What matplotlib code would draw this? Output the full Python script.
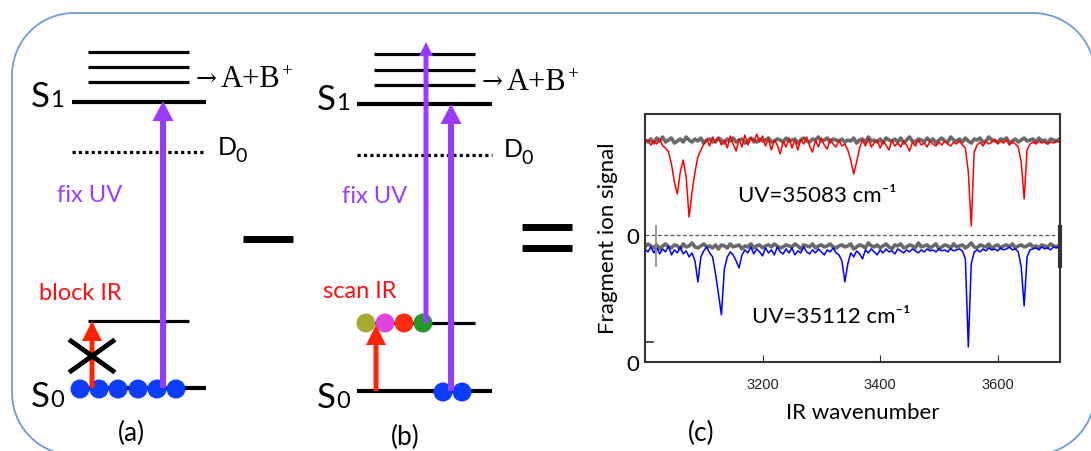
import numpy as np
import matplotlib
matplotlib.use("Agg")
import matplotlib.pyplot as plt
from matplotlib.patches import FancyArrow, Circle, PathPatch
from matplotlib.path import Path

plt.rcParams["font.family"] = ["Lato", "DejaVu Sans"]

W, H = 1091, 452

# spectrum data: wavenumber grid start/step, dips in units of 1/248 of the axis height
wn_start = 3000
red_dip = [0, -2, 3, -1, 2, -3, 4, 6, 10, 22,
           40, 52, 30, 18, 35, 75, 50, 30, 15, 8,
           2, -3, 4, -5, 1, -4, 3, -2, 6, -6,
           2, 9, -3, 5, -7, 3, -4, 1, -8, 0,
           -6, 4, -3, 8, -2, 3, 12, -1, 5, -4,
           6, -2, 8, -3, 2, -5, 4, 10, -2, 5,
           -4, 3, 7, -3, 2, 5, -2, 4, 2, 8,
           18, 32, 20, 6, -2, 4, -3, 5, 1, -2,
           6, -1, 3, 8, -2, 4, 1, 5, -1, 3,
           9, 0, 4, -2, 3, 1, 5, -1, 2, 4,
           0, 3, -1, 2, 4, 0, 2, -1, 3, 6,
           30, 84, 10, 3, 0, 4, -1, 2, 0, -3,
           2, -1, 1, -2, 3, 0, 2, 5, 20, 57,
           8, 2, 0, 2, -1, 1, 0, 2, 0, 1,
           -1, 0]
blue_dip = [0, 3, -2, 4, -1, 5, 0, 3, -3, 6,
            1, 4, -2, 5, 2, 8, 4, 12, 33, 8,
            2, -2, 4, 8, 25, 45, 66, 20, 8, 3,
            6, 12, 19, 6, 1, 4, -2, 5, 0, 3,
            7, -1, 4, 1, 6, -2, 3, 5, 0, 4,
            -1, 6, 2, 4, -2, 3, 5, 1, 4, 0,
            3, 6, 1, 3, -1, 4, 6, 12, 33, 15,
            4, 8, 2, 5, 10, 1, 4, 0, 3, 6,
            1, 4, 0, 3, 2, 5, 0, 2, 4, 1,
            3, 0, 2, 4, 1, 3, 0, 2, 1, 3,
            0, 2, 1, 3, 0, 2, 1, 0, 2, 10,
            98, 15, 3, 1, 3, 0, 2, -1, 1, 0,
            2, -1, 1, 0, -2, 1, 0, 3, 18, 57,
            8, 1, 0, -1, 1, -2, 0, -1, 1, -2,
            -1, -3]
gray_top_dip = [0, 2, -1, 3, -2, 1, -3, 2, 0, -2,
                3, 1, -1, 2, -3, 0, 2, -1, 1, -2,
                3, 0, -1, 2, 1, -2, 0, 3, -1, 1,
                -2, 2, 0, -1, 3, 1, -2, 0, 2, -1,
                1, 0, -2, 2, 1, -1, 0, 2, -2, 1,
                0, -1, 3, 0, -2, 1, 2, -1, 0, -3,
                1, 0, -2, 2, -1, 0, 1, -1, 2, 0,
                1, -2, 3, 0, -1, 2, -3, 1, 0, 2,
                -1, 3, -2, 0, 1, -1, 2, -2, 3, 0,
                -3, 1, 2, -1, 0, 2, -2, 1, -1, 3,
                0, -2, 1, 2, -3, 0, 1, -1, 2, -2,
                1, 3, -1, 0, -2, 2, 1, -3, 0, 1,
                2, -1, 0, -2, 3, 1, -1, 2, 0, -2,
                1, 0, -1, 2, -2, 1, 0, 3, -1, 0,
                1, -1]
gray_bot_dip = [1, -2, 0, 2, -1, 3, 0, -2, 1, 2,
                -1, 0, 3, -2, 1, 0, -3, 1, 2, 0,
                -2, 1, 0, 2, -1, 3, -1, 0, 2, -2,
                1, 0, -1, 3, 0, 1, -2, 2, 0, -1,
                2, 0, -1, 1, -2, 0, 2, 1, -1, 0,
                1, -2, 0, 3, -1, 0, 1, -2, 2, 0,
                -1, 1, 0, -2, 1, 2, 0, -1, 1, 0,
                -2, 3, 1, -1, 0, 2, -3, 0, 1, -1,
                2, 0, -2, 1, 3, -1, 0, -2, 2, 1,
                -1, 0, 2, -3, 1, 0, -1, 2, 0, -2,
                3, 1, -1, 0, 2, -2, 1, 0, -1, 2,
                0, -3, 1, 2, -1, 0, 1, -2, 3, 0,
                -1, 2, 0, -1, 1, -2, 2, 0, -1, 1,
                0, -2, 1, 0, 2, -1, 0, 1, -2, 0,
                1, -1]
red_base, gray_top_base = 0.887, 0.895
blue_base, gray_bot_base = 0.456, 0.468
zero_top = 0.512
xticks = [3200, 3400, 3600]
label_top = "UV=35083 cm\u207b\u00b9"
label_bot = "UV=35112 cm\u207b\u00b9"

fig = plt.figure(figsize=(W / 100, H / 100), dpi=100)
ax0 = fig.add_axes([0, 0, 1, 1])
ax0.set_xlim(0, W)
ax0.set_ylim(H, 0)
ax0.axis("off")


def rounded_frame(x0, y0, x1, y1, r):
    pts = []
    for cx, cy, a0 in ((x1 - r, y0 + r, -90), (x1 - r, y1 - r, 0),
                       (x0 + r, y1 - r, 90), (x0 + r, y0 + r, 180)):
        a = np.radians(np.linspace(a0, a0 + 90, 20))
        pts += list(zip(cx + r * np.cos(a), cy + r * np.sin(a)))
    pts.append(pts[0])
    return PathPatch(Path(pts), fc="none", ec="#6d9dd6", lw=1.3, clip_on=False)


ax0.add_patch(rounded_frame(12, 14, 1095, 456, 62))

purple = "#9a3cff"
red_arrow = "#ff2400"


def level(x0, x1, y, lw=3.0, ls="-"):
    ax0.plot([x0, x1], [y, y], color="black", lw=lw, ls=ls, solid_capstyle="butt", zorder=2)


def state_label(x, y, sub):
    ax0.text(x, y, "S", fontsize=25, va="baseline", ha="left")
    ax0.text(x + 19, y, sub, fontsize=17, va="baseline", ha="left")


def d0_label(x, y):
    ax0.text(x, y, "D", fontsize=18, va="baseline", ha="left")
    ax0.text(x + 17, y + 7, "0", fontsize=14, va="baseline", ha="left")


def product_label(x, y):
    ax0.text(x, y - 1, "\u2192", fontsize=18, va="baseline", ha="left", family=["DejaVu Serif"])
    ax0.text(x + 25, y, "A+B", fontsize=22, va="baseline", ha="left", family=["Liberation Serif"])
    ax0.text(x + 85, y - 11, "+", fontsize=14, va="baseline", ha="left", family=["Liberation Serif"])


def dot(x, y, c):
    ax0.add_patch(Circle((x, y), 9.5, color=c, zorder=3, lw=0))


def arrow(x, y0, y1, c, w, hw, hl):
    ax0.add_patch(FancyArrow(x, y0, 0, y1 - y0, width=w, head_width=hw, head_length=hl,
                             length_includes_head=True, color=c, lw=0, zorder=4))


# panel (a)
for y in (53, 68, 83):
    level(88, 189, y, lw=2.3)
level(72, 206, 103)
level(72, 206, 153, lw=2.3, ls=(0, (1, 1)))
level(88, 189, 322, lw=2.3)
level(72, 206, 389)
state_label(31, 107, "1")
state_label(31, 407, "0")
d0_label(218, 155)
product_label(196, 87)
ax0.text(57, 202, "fix UV", fontsize=17, color=purple, va="baseline")
ax0.text(39, 300, "block IR", fontsize=17, color="#ff1010", va="baseline")
for x in (80, 99, 118, 138, 157, 176):
    dot(x, 390, "#0b3dff")
arrow(92, 389, 322, red_arrow, 5, 20, 20)
arrow(163, 389, 102, purple, 6, 21, 20)
ax0.plot([71, 113], [342, 372], color="black", lw=3.5, zorder=5)
ax0.plot([71, 113], [372, 342], color="black", lw=3.5, zorder=5)
ax0.text(131, 433, "(a)", fontsize=19, ha="center", va="center")

# minus and equals
ax0.plot([243, 293], [240, 240], color="black", lw=5, solid_capstyle="butt")
ax0.plot([522, 572], [227.5, 227.5], color="black", lw=5, solid_capstyle="butt")
ax0.plot([522, 572], [248.5, 248.5], color="black", lw=5, solid_capstyle="butt")

# panel (b)
for y in (55, 71, 86):
    level(374, 475, y, lw=2.3)
level(357, 492, 105)
level(357, 492, 156, lw=2.3, ls=(0, (1, 1)))
level(374, 475, 324, lw=2.3)
level(357, 492, 392)
state_label(317, 110, "1")
state_label(317, 408, "0")
d0_label(504, 157)
product_label(482, 90)
ax0.text(342, 203, "fix UV", fontsize=17, color=purple, va="baseline")
ax0.text(323, 298, "scan IR", fontsize=17, color="#ff1010", va="baseline")
for x, c in zip((366, 385, 404, 423), ("#a5ab30", "#e042dc", "#ff2a10", "#22982a")):
    dot(x, 324, c)
for x in (443, 462):
    dot(x, 393, "#0b3dff")
arrow(376, 392, 326, red_arrow, 5, 20, 20)
arrow(426, 324, 43, purple, 5, 14, 14)
arrow(451, 392, 105, purple, 6, 21, 20)
ax0.text(405, 437, "(b)", fontsize=19, ha="center", va="center")

# panel (c) spectrum
ax = fig.add_axes([645 / W, 1 - 363 / H, 415 / W, 248 / H])
s = 1 / 248
xr = wn_start + 5 * np.arange(len(red_dip))
xb = wn_start + 5 * np.arange(len(blue_dip))
xg1 = wn_start + 5 * np.arange(len(gray_top_dip))
xg2 = wn_start + 5 * np.arange(len(gray_bot_dip))
ax.plot(xg1, gray_top_base - np.array(gray_top_dip) * s, color="#2a2a2a", lw=2.6, alpha=0.7)
ax.plot(xg2, gray_bot_base - np.array(gray_bot_dip) * s, color="#2a2a2a", lw=2.6, alpha=0.7)
ax.plot(xr, red_base - np.array(red_dip) * s, color="#ff0000", lw=1.1)
ax.plot(xb, blue_base - np.array(blue_dip) * s, color="#0000ff", lw=1.1)
ax.axhline(zero_top, color="#555555", lw=0.9, ls=(0, (3, 2)))
ax.plot([3019, 3019], [0.387, 0.548], color="#888888", lw=1.2)
ax.plot([3000, 3013], [0.081, 0.081], color="#333333", lw=1.2)
ax.plot([1, 1], [0.387, 0.544], color="#333333", lw=3, transform=ax.transAxes, clip_on=False)
ax.set_xlim(3000, 3706)
ax.set_ylim(0, 1)
ax.set_xticks(xticks)
ax.set_xticklabels([str(t) for t in xticks], family=["Liberation Sans"])
ax.tick_params(axis="x", direction="in", length=5, pad=11, labelsize=10.5,
               color="#333333", labelcolor="#222222")
ax.set_yticks([0, zero_top])
ax.set_yticklabels(["0", "0"])
ax.tick_params(axis="y", length=0, pad=4, labelsize=16)
for sp in ax.spines.values():
    sp.set_color("#333333")
    sp.set_linewidth(1.5)
ax.text(738, 202, label_top, fontsize=16, va="baseline", transform=ax0.transData)
ax.text(752, 323, label_bot, fontsize=16, va="baseline", transform=ax0.transData)

ax0.text(608, 238, "Fragment ion signal", fontsize=16, rotation=90, ha="center", va="center")
ax0.text(863, 413, "IR wavenumber", fontsize=16, ha="center", va="center")
ax0.text(701, 433, "(c)", fontsize=19, ha="center", va="center")

fig.savefig("out.png", dpi=100)
